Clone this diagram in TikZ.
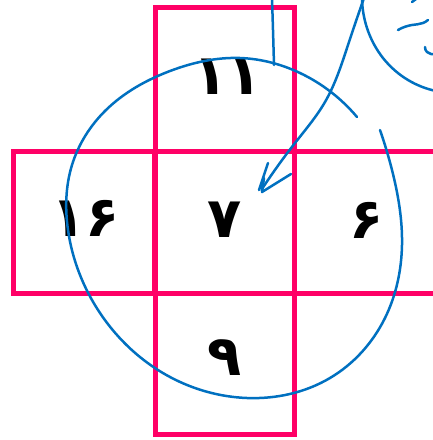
\documentclass[tikz,border=0pt]{standalone}
\usepackage{fontspec}
\usetikzlibrary{hobby}
\newfontfamily\fa[Script=Arabic]{DejaVu Sans}
\definecolor{sqpink}{RGB}{255,0,102}
\definecolor{penblue}{RGB}{0,112,192}
\begin{document}
\begin{tikzpicture}[x=1pt,y=-1pt,
  sq/.style={draw=sqpink, line width=5pt, inner sep=0pt},
  num/.style={inner sep=0pt, font=\fa\bfseries\fontsize{56}{56}\selectfont},
  pen/.style={draw=penblue, line width=2.5pt, line cap=round, line join=round, use Hobby shortcut}]
\useasboundingbox (0,0) rectangle (433,440);
\clip (0,0) rectangle (433,440);
\node[sq, minimum width=139pt, minimum height=144pt] (top) at (224.5,79) {};
\node[sq, minimum width=139pt, minimum height=142pt] (mid) at (224.5,222) {};
\node[sq, minimum width=141pt, minimum height=142pt] (left) at (84,222) {};
\node[sq, minimum width=142pt, minimum height=142pt] (right) at (365,222) {};
\node[sq, minimum width=139pt, minimum height=141pt] (bot) at (224.5,364) {};
\node[num] (ntop) at (228,77) {۱۱};
\node[num] (nmid) at (225,220) {۷};
\node[num] (nleft) at (86,218) {۱۶};
\node[num] (nright) at (367,220) {۶};
\node[num] (nbot) at (225,358) {۹};
% big hand-drawn loop
\draw[pen] (357,117) .. (300,73) .. (240,58) .. (170,71) .. (106,110)
  .. (72,165) .. (68,230) .. (100,313) .. (170,377) .. (247,398)
  .. (330,378) .. (385,318) .. (402,245) .. (392,170) .. (380,130);
% vertical stroke from top
\draw[pen] (272,-2) .. (273,30) .. (274,65);
% arrow shaft
\draw[pen] (364,-2) .. (348,45) .. (325,102) .. (295,143) .. (262,189);
% hand-drawn arrowhead
\draw[draw=penblue, line width=2.5pt, line cap=round, line join=round]
  (268,163) -- (259,190) -- (264,178) -- (262,192) -- (291,174);
% arc at top right
\draw[pen] (362,-2) .. (367,28) .. (383,58) .. (408,80) .. (436,91);
% cut-off handwriting marks
\draw[draw=penblue, line width=2.5pt, line cap=round] (412,2) -- (416,-1);
\draw[pen] (398,30) .. (412,25) .. (423,23) .. (428,20);
\draw[pen] (425,47) .. (427,52) .. (431,54) .. (435,54);
\end{tikzpicture}
\end{document}
